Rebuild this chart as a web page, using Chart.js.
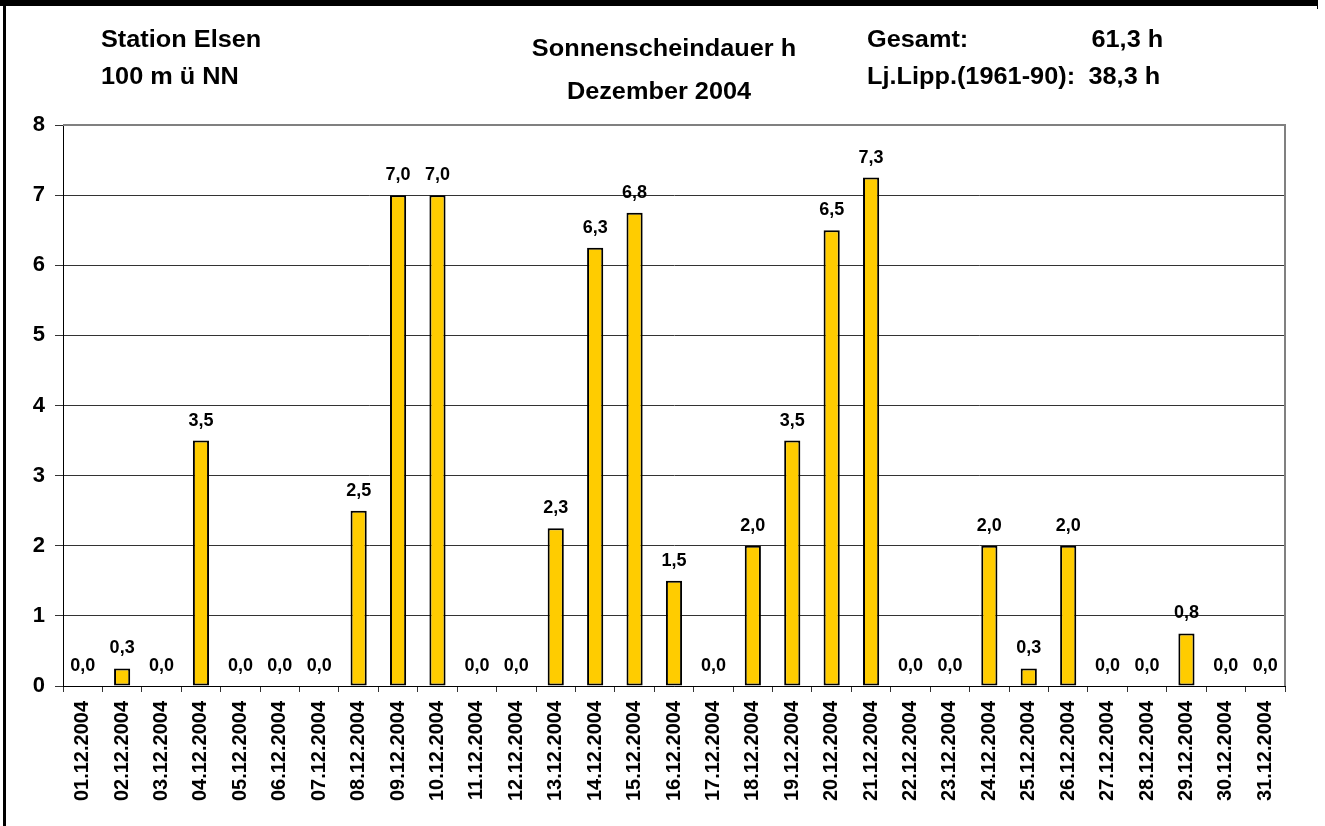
<!DOCTYPE html>
<html>
<head>
<meta charset="utf-8">
<script src="https://cdn.jsdelivr.net/npm/chart.js@4.4.1/dist/chart.umd.min.js"></script>
<style>
    body { margin: 0; background: #fff; }
    #wrap { position: relative; width: 1325px; height: 826px; overflow: hidden; }
    #chart { position: absolute; left: 0; top: 0; }
    .hdr {
        position: absolute;
        font-family: "Liberation Sans", Arial, sans-serif;
        font-weight: bold;
        font-size: 23px;
        line-height: 23px;
        color: #000;
        white-space: nowrap;
    }
    .frame { position: absolute; background: #000; }
</style>
</head>
<body>
<div id="wrap">
    <canvas id="chart" width="1325" height="826"></canvas>

    <div class="frame" style="left:0; top:0; width:1318px; height:6px;"></div>
    <div class="frame" style="left:1317px; top:0; width:1px; height:9px;"></div>
    <div class="frame" style="left:3px; top:0; width:3px; height:826px;"></div>

    <div class="hdr" style="left:101px; top:28px; transform:scaleX(1.1); transform-origin:left;">Station Elsen</div>
    <div class="hdr" style="left:101px; top:65px; transform:scaleX(1.1); transform-origin:left;">100 m ü NN</div>
    <div class="hdr" style="left:464px; top:37px; width:400px; text-align:center; transform:scaleX(1.1);">Sonnenscheindauer h</div>
    <div class="hdr" style="left:459px; top:80px; width:400px; text-align:center; transform:scaleX(1.1);">Dezember 2004</div>
    <div class="hdr" style="left:867px; top:28px; transform:scaleX(1.1); transform-origin:left;">Gesamt:</div>
    <div class="hdr" style="right:162px; top:28px; transform:scaleX(1.1); transform-origin:right;">61,3 h</div>
    <div class="hdr" style="left:867px; top:65px; transform:scaleX(1.1); transform-origin:left;">Lj.Lipp.(1961-90):</div>
    <div class="hdr" style="right:165px; top:65px; transform:scaleX(1.1); transform-origin:right;">38,3 h</div>
</div>

<script>
// ---------------- DATA ----------------
const days = [
    "01.12.2004", "02.12.2004", "03.12.2004", "04.12.2004", "05.12.2004",
    "06.12.2004", "07.12.2004", "08.12.2004", "09.12.2004", "10.12.2004",
    "11.12.2004", "12.12.2004", "13.12.2004", "14.12.2004", "15.12.2004",
    "16.12.2004", "17.12.2004", "18.12.2004", "19.12.2004", "20.12.2004",
    "21.12.2004", "22.12.2004", "23.12.2004", "24.12.2004", "25.12.2004",
    "26.12.2004", "27.12.2004", "28.12.2004", "29.12.2004", "30.12.2004",
    "31.12.2004"
];

const sunHours = [
    0, 0.25, 0, 3.5, 0, 0, 0, 2.5, 7, 7,
    0, 0, 2.25, 6.25, 6.75, 1.5, 0, 2, 3.5, 6.5,
    7.25, 0, 0, 2, 0.25, 2, 0, 0, 0.75, 0,
    0
];

const yMin = 0;
const yMax = 8;

const FONT = "'Liberation Sans', Arial, sans-serif";

// ---------------- HELPERS ----------------
function fmt(v) {
    return (Math.round(v * 10) / 10).toFixed(1).replace(".", ",");
}

// value labels above the bars
const valueLabels = {
    id: "valueLabels",
    afterDatasetsDraw(chart) {
        const ctx = chart.ctx;
        const meta = chart.getDatasetMeta(0);
        ctx.save();
        ctx.font = "bold 18px " + FONT;
        ctx.fillStyle = "#000";
        ctx.textAlign = "center";
        ctx.textBaseline = "alphabetic";
        meta.data.forEach((bar, i) => {
            ctx.fillText(fmt(sunHours[i]), bar.x, bar.y - 15);
        });
        ctx.restore();
    }
};

// grey plot frame (top + right)
const plotFrame = {
    id: "plotFrame",
    beforeDatasetsDraw(chart) {
        const a = chart.chartArea;
        const ctx = chart.ctx;
        ctx.save();
        ctx.strokeStyle = "#808080";
        ctx.lineWidth = 2;
        ctx.beginPath();
        ctx.moveTo(a.left, a.top);
        ctx.lineTo(a.right, a.top);
        ctx.lineTo(a.right, a.bottom);
        ctx.stroke();
        ctx.restore();
    }
};

// ---------------- CHART ----------------
function createChart() {
    const ctx = document.getElementById("chart");

    new Chart(ctx, {
        type: "bar",
        data: {
            labels: days,
            datasets: [{
                data: sunHours,
                backgroundColor: "#FFCC00",
                borderColor: "#000",
                borderWidth: c => (c.raw > 0 ? 2 : 0),
                borderSkipped: false,
                barPercentage: 0.41,
                categoryPercentage: 1
            }]
        },
        options: {
            responsive: false,
            animation: false,
            devicePixelRatio: 1,
            layout: { padding: { top: 125, right: 40, left: 0, bottom: 0 } },
            plugins: {
                legend: { display: false },
                tooltip: { enabled: false }
            },
            scales: {
                x: {
                    afterFit: s => { s.height = 140; },
                    grid: {
                        offset: true,
                        drawOnChartArea: false,
                        color: "#333",
                        tickLength: 6
                    },
                    border: { color: "#000", width: 1 },
                    ticks: {
                        autoSkip: false,
                        minRotation: 90,
                        maxRotation: 90,
                        padding: 9,
                        color: "#000",
                        font: { family: FONT, size: 20, weight: "bold" }
                    }
                },
                y: {
                    min: yMin,
                    max: yMax,
                    afterFit: s => { s.width = 63; },
                    grid: {
                        color: c => (c.tick.value === yMax ? "rgba(0,0,0,0)" : "#333"),
                        tickColor: "#333",
                        tickLength: 8
                    },
                    border: { color: "#000", width: 1 },
                    ticks: {
                        stepSize: 1,
                        padding: 10,
                        color: "#000",
                        font: { family: FONT, size: 22, weight: "bold" }
                    }
                }
            }
        },
        plugins: [plotFrame, valueLabels]
    });
}

// ---------------- INIT ----------------
createChart();
</script>
</body>
</html>
